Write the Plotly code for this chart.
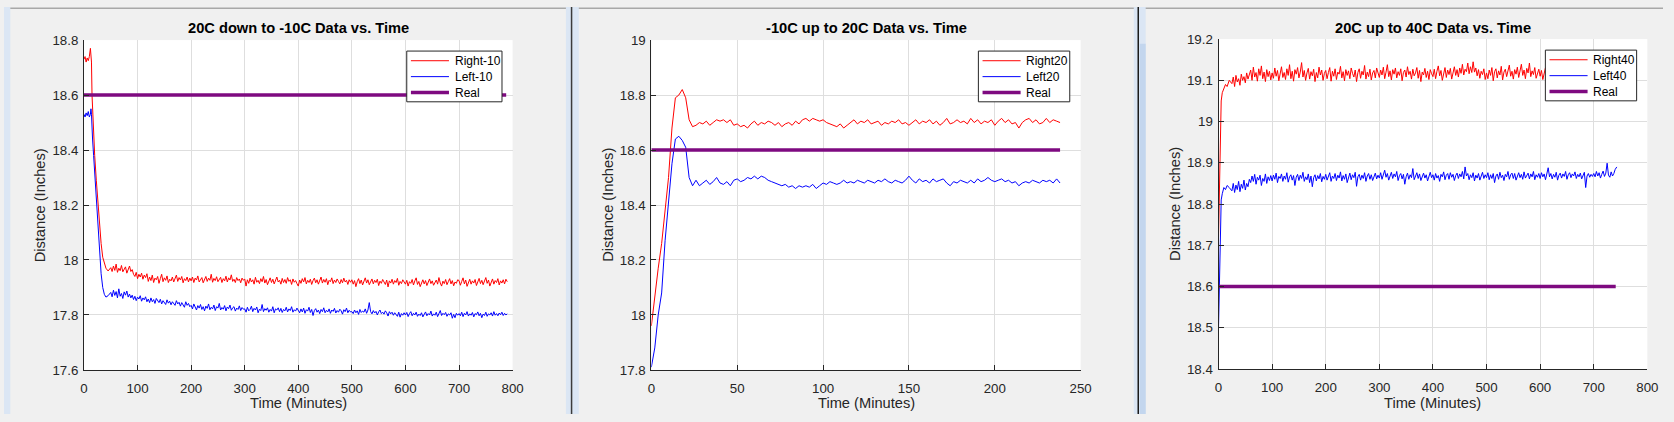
import plotly.graph_objects as go

W, H = 1674, 422

# ---------------- data ----------------
TITLES = ["20C down to -10C Data vs. Time", "-10C up to 20C Data vs. Time", "20C up to 40C Data vs. Time"]
NAMES = [["Right-10", "Left-10", "Real"], ["Right20", "Left20", "Real"], ["Right40", "Left40", "Real"]]
REAL = 18.6

# Panel 1: 20C down to -10C   (sampled every 2.5 min after the transition)
T1 = [0, 2, 4, 6, 8, 10, 12, 13, 14, 15, 16, 18, 20, 23, 26, 29, 32, 35, 38, 41, 45] + [50 + 2.5 * k for k in range(297)]
R1 = [18.73, 18.74, 18.72, 18.735, 18.725, 18.74, 18.77, 18.73, 18.72, 18.60, 18.56, 18.43, 18.38, 18.29, 18.20,
      18.13, 18.06, 18.01, 17.985, 17.97, 17.96,
      17.972, 17.958, 17.978, 17.962, 17.985, 17.955, 17.97, 17.961,
      17.98, 17.957, 17.968, 17.975, 17.952, 17.966, 17.978, 17.958,
      17.965, 17.948, 17.94, 17.955, 17.932, 17.948, 17.938, 17.952, 17.93, 17.945, 17.936, 17.95,
      17.922, 17.938, 17.925, 17.945, 17.918, 17.934, 17.928, 17.94,
      17.915, 17.932, 17.948, 17.921, 17.935, 17.926, 17.942, 17.918,
      17.93, 17.924, 17.938, 17.92, 17.933, 17.945, 17.922, 17.936,
      17.927, 17.94, 17.917, 17.932, 17.925, 17.938, 17.92, 17.934,
      17.924, 17.938, 17.918, 17.934, 17.927, 17.942, 17.92, 17.931,
      17.936, 17.917, 17.929, 17.94, 17.922, 17.934, 17.926, 17.948,
      17.919, 17.933, 17.925, 17.939, 17.921, 17.93, 17.937, 17.918,
      17.932, 17.924, 17.941, 17.92, 17.935, 17.927, 17.946, 17.922,
      17.93, 17.918, 17.936, 17.925, 17.931, 17.917, 17.934, 17.926,
      17.931, 17.905, 17.928, 17.915, 17.934, 17.92, 17.928, 17.912,
      17.937, 17.919, 17.926, 17.914, 17.932, 17.921, 17.94, 17.916,
      17.929, 17.91, 17.925, 17.935, 17.918, 17.93, 17.913, 17.927,
      17.938, 17.92, 17.926, 17.912, 17.933, 17.918, 17.929, 17.915,
      17.936, 17.922, 17.928, 17.911, 17.931, 17.919, 17.925, 17.914,
      17.905, 17.927, 17.915, 17.932, 17.92, 17.936, 17.913, 17.926,
      17.918, 17.93, 17.911, 17.925, 17.934, 17.917, 17.928, 17.912,
      17.923, 17.938, 17.916, 17.929, 17.919, 17.932, 17.91, 17.926,
      17.921, 17.935, 17.914, 17.927, 17.918, 17.931, 17.922, 17.913,
      17.929, 17.917, 17.934, 17.92, 17.926, 17.911, 17.928, 17.919,
      17.928, 17.912, 17.925, 17.903, 17.921, 17.932, 17.914, 17.927,
      17.909, 17.924, 17.935, 17.916, 17.928, 17.91, 17.922, 17.931,
      17.913, 17.926, 17.918, 17.93, 17.907, 17.923, 17.915, 17.929,
      17.92, 17.911, 17.927, 17.902, 17.924, 17.916, 17.93, 17.912,
      17.925, 17.918, 17.933, 17.908, 17.922, 17.914, 17.928, 17.917,
      17.912, 17.926, 17.905, 17.921, 17.915, 17.929, 17.909, 17.924,
      17.935, 17.911, 17.922, 17.903, 17.918, 17.928, 17.913, 17.925,
      17.907, 17.92, 17.931, 17.914, 17.924, 17.908, 17.919, 17.927,
      17.912, 17.936, 17.916, 17.905, 17.923, 17.914, 17.929, 17.91,
      17.921, 17.932, 17.913, 17.925, 17.906, 17.92, 17.915, 17.928,
      17.925, 17.908, 17.922, 17.935, 17.913, 17.927, 17.904, 17.921,
      17.93, 17.912, 17.924, 17.916, 17.929, 17.907, 17.92, 17.933,
      17.914, 17.926, 17.91, 17.923, 17.936, 17.915, 17.927, 17.905,
      17.922, 17.931, 17.912, 17.925, 17.918, 17.932, 17.909, 17.924,
      17.916, 17.928, 17.913, 17.93, 17.921]
L1 = [18.53, 18.52, 18.535, 18.525, 18.54, 18.52, 18.53, 18.55, 18.53, 18.47, 18.44, 18.38, 18.32, 18.20, 18.10,
      18.02, 17.95, 17.90, 17.875, 17.865, 17.87,
      17.882, 17.866, 17.89, 17.871, 17.885, 17.862, 17.895, 17.868,
      17.878, 17.86, 17.884, 17.872, 17.887, 17.865, 17.876, 17.862,
      17.872, 17.856, 17.868, 17.852, 17.865, 17.858, 17.87, 17.85, 17.862, 17.855, 17.866, 17.848,
      17.858, 17.845, 17.862, 17.848, 17.856, 17.842, 17.86, 17.85,
      17.845, 17.857, 17.84, 17.852, 17.846, 17.838, 17.855, 17.843,
      17.85, 17.837, 17.848, 17.842, 17.835, 17.852, 17.84, 17.846,
      17.832, 17.845, 17.838, 17.828, 17.848, 17.835, 17.842, 17.83,
      17.835, 17.822, 17.84, 17.826, 17.818, 17.834, 17.825, 17.838,
      17.82, 17.83, 17.815, 17.832, 17.824, 17.84, 17.819, 17.828,
      17.822, 17.836, 17.816, 17.83, 17.825, 17.842, 17.818, 17.827,
      17.821, 17.834, 17.815, 17.829, 17.823, 17.836, 17.817, 17.826,
      17.83, 17.814, 17.825, 17.82, 17.833, 17.816, 17.827, 17.821,
      17.822, 17.81, 17.828, 17.815, 17.82, 17.832, 17.812, 17.824,
      17.818, 17.829, 17.808, 17.821, 17.816, 17.838, 17.812, 17.823,
      17.817, 17.826, 17.81, 17.82, 17.814, 17.83, 17.808, 17.822,
      17.818, 17.826, 17.812, 17.824, 17.809, 17.82, 17.815, 17.828,
      17.811, 17.822, 17.816, 17.83, 17.81, 17.819, 17.814, 17.825,
      17.818, 17.808, 17.822, 17.811, 17.825, 17.806, 17.819, 17.814,
      17.828, 17.809, 17.82, 17.798, 17.816, 17.823, 17.81, 17.818,
      17.805, 17.82, 17.812, 17.826, 17.808, 17.817, 17.811, 17.822,
      17.806, 17.818, 17.813, 17.824, 17.807, 17.816, 17.81, 17.821,
      17.815, 17.803, 17.819, 17.812, 17.825, 17.808, 17.817, 17.811,
      17.812, 17.805, 17.818, 17.808, 17.815, 17.802, 17.82, 17.809,
      17.814, 17.81, 17.822, 17.806, 17.818, 17.845, 17.812, 17.804,
      17.816, 17.807, 17.813, 17.8, 17.811, 17.818, 17.805, 17.81,
      17.803, 17.815, 17.808, 17.796, 17.812, 17.804, 17.81, 17.799,
      17.808, 17.802, 17.795, 17.81, 17.792, 17.805, 17.799, 17.808,
      17.8, 17.809, 17.794, 17.805, 17.812, 17.797, 17.806, 17.8,
      17.81, 17.795, 17.803, 17.798, 17.808, 17.793, 17.802, 17.811,
      17.797, 17.805, 17.8, 17.814, 17.796, 17.804, 17.799, 17.81,
      17.794, 17.803, 17.816, 17.798, 17.806, 17.801, 17.809, 17.795,
      17.804, 17.8, 17.808, 17.788, 17.802, 17.79, 17.806, 17.799,
      17.805, 17.797, 17.81, 17.794, 17.806, 17.8, 17.812, 17.796,
      17.804, 17.799, 17.809, 17.793, 17.805, 17.801, 17.811, 17.797,
      17.806, 17.79, 17.803, 17.798, 17.81, 17.795, 17.804, 17.8,
      17.808, 17.796, 17.812, 17.799, 17.805, 17.797, 17.807, 17.801,
      17.81, 17.798, 17.806, 17.8, 17.804]

# Panel 2: -10C up to 20C
T2 = list(range(0, 239, 2))
R2 = [17.96, 18.07, 18.17, 18.26, 18.38, 18.50, 18.68, 18.79, 18.80, 18.82,
      18.79, 18.71, 18.685, 18.69, 18.70, 18.695, 18.705, 18.69, 18.70, 18.71,
      18.705, 18.71, 18.70, 18.71, 18.69, 18.695, 18.685, 18.69, 18.68, 18.695,
      18.705, 18.69, 18.70, 18.695, 18.705, 18.70, 18.69, 18.70, 18.685, 18.695,
      18.70, 18.69, 18.705, 18.695, 18.71, 18.715, 18.705, 18.715, 18.71, 18.705,
      18.71, 18.70, 18.695, 18.69, 18.685, 18.695, 18.68, 18.69, 18.70, 18.71,
      18.695, 18.705, 18.70, 18.71, 18.695, 18.70, 18.705, 18.69, 18.70, 18.695,
      18.705, 18.70, 18.71, 18.695, 18.70, 18.69, 18.70, 18.71, 18.695, 18.705,
      18.70, 18.71, 18.695, 18.705, 18.69, 18.70, 18.715, 18.695, 18.70, 18.71,
      18.70, 18.705, 18.695, 18.715, 18.70, 18.71, 18.695, 18.705, 18.70, 18.71,
      18.69, 18.705, 18.715, 18.70, 18.71, 18.695, 18.70, 18.68, 18.70, 18.71,
      18.715, 18.70, 18.71, 18.695, 18.70, 18.715, 18.70, 18.71, 18.705, 18.70]
L2 = [17.81, 17.88, 18.00, 18.08, 18.27, 18.42, 18.55, 18.64, 18.65, 18.635,
      18.61, 18.50, 18.47, 18.49, 18.47, 18.48, 18.49, 18.475, 18.485, 18.50,
      18.48, 18.475, 18.485, 18.47, 18.49, 18.495, 18.485, 18.49, 18.50, 18.495,
      18.505, 18.495, 18.505, 18.50, 18.49, 18.485, 18.48, 18.475, 18.47, 18.475,
      18.465, 18.47, 18.46, 18.47, 18.465, 18.47, 18.465, 18.475, 18.46, 18.47,
      18.48, 18.475, 18.485, 18.48, 18.475, 18.48, 18.49, 18.48, 18.485, 18.48,
      18.49, 18.485, 18.48, 18.49, 18.485, 18.48, 18.49, 18.485, 18.495, 18.485,
      18.48, 18.49, 18.485, 18.48, 18.49, 18.505, 18.49, 18.48, 18.495, 18.485,
      18.49, 18.48, 18.495, 18.485, 18.49, 18.495, 18.48, 18.47, 18.485, 18.48,
      18.49, 18.485, 18.48, 18.49, 18.48, 18.495, 18.485, 18.49, 18.50, 18.49,
      18.485, 18.49, 18.495, 18.485, 18.49, 18.48, 18.485, 18.47, 18.48, 18.485,
      18.48, 18.49, 18.485, 18.48, 18.49, 18.485, 18.49, 18.48, 18.495, 18.48]

# Panel 3: 20C up to 40C   (sampled every 2.5 min after the transition)
T3 = [0, 1, 2, 3, 5, 7, 10, 13, 16, 20] + [25 + 2.5 * k for k in range(287)] + [743]
R3 = [18.72, 18.80, 18.90, 18.98, 19.05, 19.07, 19.08, 19.09, 19.085, 19.10,
      19.092, 19.108, 19.085, 19.112, 19.096, 19.104, 19.088, 19.115, 19.1, 19.109, 19.094, 19.118, 19.103, 19.112,
      19.125, 19.1, 19.132, 19.108, 19.119, 19.098, 19.128, 19.112, 19.135, 19.104, 19.12, 19.097, 19.126, 19.109, 19.122, 19.101,
      19.118, 19.105, 19.13, 19.11, 19.124, 19.099, 19.121, 19.133, 19.107, 19.119,
      19.102, 19.128, 19.112, 19.138, 19.104, 19.122, 19.098, 19.126, 19.115, 19.131,
      19.106, 19.12, 19.143, 19.108, 19.124, 19.1, 19.118, 19.129, 19.103, 19.121,
      19.111, 19.127, 19.097, 19.119, 19.106, 19.132, 19.113, 19.125, 19.1, 19.117,
      19.124, 19.104, 19.119, 19.131, 19.098, 19.122, 19.11, 19.128, 19.102, 19.12,
      19.115, 19.134, 19.106, 19.121, 19.099, 19.126, 19.112, 19.123, 19.104, 19.13,
      19.117, 19.108, 19.125, 19.097, 19.119, 19.128, 19.105, 19.122, 19.113, 19.136,
      19.103, 19.12, 19.109, 19.127, 19.101, 19.118, 19.124, 19.106, 19.13, 19.114,
      19.107, 19.125, 19.113, 19.132, 19.104, 19.12, 19.138, 19.109, 19.123, 19.101,
      19.126, 19.115, 19.13, 19.106, 19.121, 19.112, 19.128, 19.099, 19.119, 19.125,
      19.108, 19.133, 19.114, 19.122, 19.103, 19.127, 19.111, 19.118, 19.131, 19.105,
      19.124, 19.097, 19.12, 19.113, 19.129, 19.107, 19.122, 19.102, 19.126, 19.116,
      19.109, 19.127, 19.104, 19.122, 19.135, 19.111, 19.124, 19.1, 19.12, 19.131,
      19.107, 19.125, 19.114, 19.129, 19.103, 19.121, 19.133, 19.112, 19.126, 19.108,
      19.13, 19.117, 19.139, 19.113, 19.127, 19.121, 19.142, 19.116, 19.133, 19.119,
      19.145, 19.12, 19.13, 19.111, 19.126, 19.105, 19.122, 19.114, 19.128, 19.102,
      19.118, 19.104, 19.125, 19.112, 19.131, 19.099, 19.121, 19.128, 19.106, 19.123,
      19.113, 19.134, 19.101, 19.12, 19.127, 19.109, 19.124, 19.137, 19.11, 19.122,
      19.103, 19.126, 19.115, 19.132, 19.107, 19.121, 19.139, 19.112, 19.125, 19.104,
      19.129, 19.118, 19.142, 19.109, 19.123, 19.114, 19.131, 19.105, 19.12, 19.127,
      19.11, 19.124, 19.102, 19.119, 19.131, 19.108, 19.122, 19.114, 19.127, 19.1,
      19.118, 19.125, 19.106, 19.121, 19.133, 19.111, 19.124, 19.104, 19.119, 19.128,
      19.109, 19.122, 19.113, 19.13, 19.101, 19.12, 19.126, 19.107, 19.123, 19.115,
      19.129, 19.105, 19.121, 19.112, 19.127, 19.103, 19.119, 19.131, 19.108, 19.124,
      19.112, 19.126, 19.104, 19.121, 19.133, 19.109, 19.123, 19.115, 19.128, 19.101,
      19.12, 19.127, 19.107, 19.122, 19.113, 19.125, 19.118,
      19.12]
L3 = [18.50, 18.58, 18.67, 18.75, 18.81, 18.825, 18.84, 18.835, 18.845, 18.84,
      18.832, 18.85, 18.828, 18.846, 18.835, 18.855, 18.83, 18.848, 18.838, 18.858, 18.834, 18.85, 18.842, 18.86,
      18.852, 18.868, 18.855, 18.872, 18.848, 18.865, 18.858, 18.87, 18.845, 18.862, 18.855, 18.873, 18.85, 18.866, 18.857, 18.869,
      18.856, 18.87, 18.86, 18.875, 18.852, 18.867, 18.862, 18.873, 18.855, 18.868,
      18.86, 18.876, 18.853, 18.866, 18.871, 18.858, 18.869, 18.845, 18.865, 18.872,
      18.857, 18.87, 18.862, 18.877, 18.855, 18.866, 18.859, 18.873, 18.852, 18.868,
      18.842, 18.864, 18.871, 18.856, 18.869, 18.861, 18.874, 18.854, 18.867, 18.86,
      18.872, 18.858, 18.869, 18.876, 18.855, 18.868, 18.862, 18.874, 18.857, 18.87,
      18.863, 18.878, 18.856, 18.869, 18.86, 18.873, 18.852, 18.867, 18.875, 18.859,
      18.871, 18.864, 18.877, 18.843, 18.866, 18.872, 18.858, 18.87, 18.862, 18.876,
      18.855, 18.868, 18.874, 18.86, 18.871, 18.857, 18.869, 18.875, 18.861, 18.87,
      18.863, 18.876, 18.86, 18.872, 18.882, 18.865, 18.874, 18.858, 18.87, 18.877,
      18.862, 18.873, 18.866, 18.879, 18.857, 18.869, 18.874, 18.861, 18.872, 18.848,
      18.866, 18.875, 18.86, 18.871, 18.864, 18.886, 18.859, 18.87, 18.876, 18.862,
      18.873, 18.857, 18.868, 18.875, 18.863, 18.871, 18.856, 18.869, 18.877, 18.864,
      18.871, 18.858, 18.874, 18.863, 18.869, 18.855, 18.872, 18.866, 18.878, 18.859,
      18.87, 18.874, 18.86, 18.876, 18.865, 18.872, 18.857, 18.869, 18.875, 18.862,
      18.873, 18.866, 18.879, 18.861, 18.89, 18.868, 18.874, 18.859, 18.871, 18.864,
      18.876, 18.856, 18.87, 18.863, 18.874, 18.858, 18.869, 18.877, 18.862, 18.871,
      18.864, 18.876, 18.859, 18.871, 18.862, 18.874, 18.852, 18.868, 18.873, 18.86,
      18.877, 18.864, 18.87, 18.857, 18.872, 18.866, 18.879, 18.86, 18.871, 18.875,
      18.862, 18.874, 18.858, 18.869, 18.876, 18.864, 18.872, 18.86, 18.878, 18.863,
      18.87, 18.875, 18.861, 18.873, 18.866, 18.879, 18.859, 18.871, 18.865, 18.874,
      18.862, 18.876, 18.866, 18.873, 18.859, 18.871, 18.888, 18.866, 18.874, 18.861,
      18.872, 18.865, 18.877, 18.858, 18.87, 18.875, 18.863, 18.873, 18.867, 18.879,
      18.86, 18.871, 18.876, 18.864, 18.873, 18.868, 18.878, 18.862, 18.872, 18.866,
      18.875, 18.861, 18.87, 18.877, 18.84, 18.868, 18.874, 18.865, 18.872, 18.867,
      18.874, 18.866, 18.879, 18.868, 18.876, 18.863, 18.872, 18.88, 18.867, 18.875,
      18.899, 18.87, 18.865, 18.878, 18.868, 18.874, 18.884,
      18.89]
REAL_END = [788, 238, 741]

X_TICKS = [list(range(0, 801, 100)), list(range(0, 251, 50)), list(range(0, 801, 100))]
X_RANGES = [[0, 800], [0, 250], [0, 800]]
Y_TICKS = [[17.6, 17.8, 18.0, 18.2, 18.4, 18.6, 18.8],
           [17.8, 18.0, 18.2, 18.4, 18.6, 18.8, 19.0],
           [18.4, 18.5, 18.6, 18.7, 18.8, 18.9, 19.0, 19.1, 19.2]]
Y_LABELS = [["17.6", "17.8", "18", "18.2", "18.4", "18.6", "18.8"],
            ["17.8", "18", "18.2", "18.4", "18.6", "18.8", "19"],
            ["18.4", "18.5", "18.6", "18.7", "18.8", "18.9", "19", "19.1", "19.2"]]
Y_RANGES = [[17.6, 18.8], [17.8, 19.0], [18.4, 19.2]]
X_LABEL = "Time (Minutes)"
Y_LABEL = "Distance (Inches)"

SERIES = [(T1, R1, L1), (T2, R2, L2), (T3, R3, L3)]

# ---------------- styling / layout ----------------
FONT = "Liberation Sans, Arial, Helvetica, sans-serif"
AX = "#262626"
COLORS = ["#ff0000", "#0000ff", "#7e0a80"]
WIDTHS = [1, 1, 3.5]
BOXES = [(80.7, 513.2, 34.3, 376.3), (653.2, 1086.4, 34.3, 376.3), (1225.5, 1658.2, 33.3, 375.3)]
LEG_W = [96.1, 92.2, 92.1]          # legend box widths (px)
LEG_INSET = [10.7, 11.0, 10.8]      # legend right inset from plot right edge (px)

fig = go.Figure()
annotations = []
shapes = []
layout = dict(
    width=W, height=H, margin=dict(l=0, r=0, t=0, b=0),
    paper_bgcolor="#f0f0f0", plot_bgcolor="#ffffff", showlegend=False,
    font=dict(family=FONT, color=AX),
)


def px(x):
    return x / W


def py(y):
    return 1 - y / H


for i, ((t, r, l), box) in enumerate(zip(SERIES, BOXES)):
    n = "" if i == 0 else str(i + 1)
    xa, ya = "x" + n, "y" + n
    x0, x1, y0, y1 = box
    nr = min(len(t), len(r))
    nl = min(len(t), len(l))
    fig.add_trace(go.Scatter(x=t[:nr], y=r[:nr], mode="lines", name=NAMES[i][0], xaxis=xa, yaxis=ya,
                             line=dict(color=COLORS[0], width=WIDTHS[0])))
    fig.add_trace(go.Scatter(x=t[:nl], y=l[:nl], mode="lines", name=NAMES[i][1], xaxis=xa, yaxis=ya,
                             line=dict(color=COLORS[1], width=WIDTHS[1])))
    fig.add_trace(go.Scatter(x=[0, REAL_END[i]], y=[REAL, REAL], mode="lines", name=NAMES[i][2], xaxis=xa,
                             yaxis=ya, line=dict(color=COLORS[2], width=WIDTHS[2])))
    common = dict(showline=True, linecolor=AX, linewidth=1, ticks="inside", ticklen=5, tickcolor=AX,
                  showgrid=True, gridcolor="#dedede", gridwidth=1, zeroline=False,
                  tickfont=dict(family=FONT, size=13.3, color=AX), fixedrange=True)
    layout["xaxis" + n] = dict(domain=[px(x0), px(x1)], range=X_RANGES[i], anchor=ya,
                               tickvals=X_TICKS[i], ticktext=[str(v) for v in X_TICKS[i]],
                               ticklabelstandoff=6, **common)
    layout["yaxis" + n] = dict(domain=[py(y1), py(y0)], range=Y_RANGES[i], anchor=xa,
                               tickvals=Y_TICKS[i], ticktext=Y_LABELS[i], ticklabelstandoff=2, **common)

    # legend box drawn with shapes / annotations
    lx1 = x1 - LEG_INSET[i]
    lx0 = lx1 - LEG_W[i]
    ly0 = y0 + 11.4
    ly1 = ly0 + 52.6
    shapes.append(dict(type="rect", xref="paper", yref="paper", x0=px(lx0), x1=px(lx1), y0=py(ly1), y1=py(ly0),
                       fillcolor="#ffffff", line=dict(color=AX, width=1), layer="above"))
    for k in range(3):
        ry = ly0 + 10 + k * 16.5
        shapes.append(dict(type="line", xref="paper", yref="paper", x0=px(lx0 + 4.2), x1=px(lx0 + 42.6),
                           y0=py(ry), y1=py(ry), line=dict(color=COLORS[k], width=WIDTHS[k]), layer="above"))
        annotations.append(dict(text=NAMES[i][k], x=px(lx0 + 46.5), y=py(ry), xref="paper", yref="paper",
                                showarrow=False, xanchor="left", yanchor="middle",
                                font=dict(family=FONT, size=12, color="#000000")))

    cx = (x0 + x1) / 2
    annotations.append(dict(text="<b>" + TITLES[i] + "</b>", x=px(cx), y=py(21.7), xref="paper", yref="paper",
                            showarrow=False, xanchor="center", yanchor="middle",
                            font=dict(family=FONT, size=14.67, color="#000000")))
    annotations.append(dict(text=X_LABEL, x=px(cx), y=py(410.7), xref="paper", yref="paper",
                            showarrow=False, xanchor="center", yanchor="middle",
                            font=dict(family=FONT, size=14.67, color=AX)))
    annotations.append(dict(text=Y_LABEL, x=px(x0 - 44), y=py((y0 + y1) / 2), xref="paper", yref="paper",
                            showarrow=False, xanchor="center", yanchor="middle", textangle=-90,
                            font=dict(family=FONT, size=14.67, color=AX)))

shapes += [
    # window top border
    dict(type="line", xref="paper", yref="paper", x0=0, x1=1, y0=py(1.2), y1=py(1.2),
         line=dict(color="#a8a8a8", width=1.5)),
    # left strip
    dict(type="rect", xref="paper", yref="paper", x0=0, x1=px(6.4), y0=0, y1=1,
         fillcolor="#dbe6f4", line=dict(width=0)),
    # separators
    dict(type="rect", xref="paper", yref="paper", x0=px(567), x1=px(580), y0=0, y1=1,
         fillcolor="#dbe6f4", line=dict(width=0)),
    dict(type="line", xref="paper", yref="paper", x0=px(572.7), x1=px(572.7), y0=0, y1=1,
         line=dict(color="#3c3c3c", width=1.5)),
    dict(type="rect", xref="paper", yref="paper", x0=px(1140), x1=px(1152), y0=0, y1=1,
         fillcolor="#dbe6f4", line=dict(width=0)),
    dict(type="rect", xref="paper", yref="paper", x0=px(1146), x1=px(1152), y0=0, y1=py(38),
         fillcolor="#c3d6ee", line=dict(width=0)),
    dict(type="line", xref="paper", yref="paper", x0=px(1144.5), x1=px(1144.5), y0=0, y1=1,
         line=dict(color="#1a1a1a", width=1.5)),
]
layout["shapes"] = shapes
layout["annotations"] = annotations
fig.update_layout(**layout)
fig.write_html("out.html", post_script="document.body.style.margin='0';document.body.style.overflow='hidden';")
